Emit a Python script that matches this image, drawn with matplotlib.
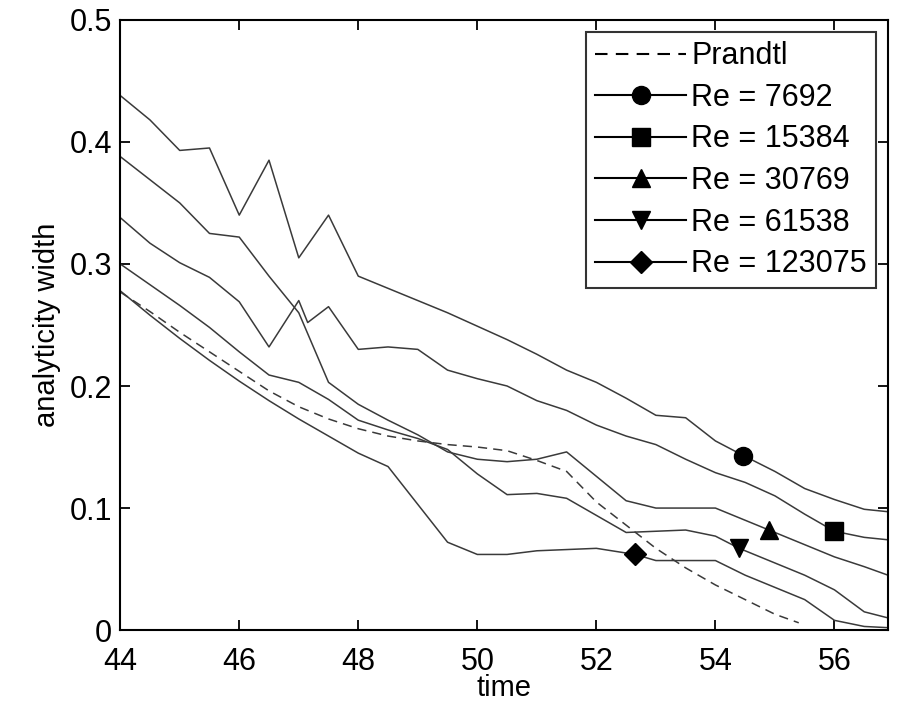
import matplotlib
matplotlib.use("Agg")
import matplotlib.pyplot as plt

plt.rcParams['font.family'] = ['Liberation Sans', 'DejaVu Sans']

# Prandtl reference curve
t_prandtl = [44, 44.5, 45, 45.5, 46, 46.5, 47, 47.5, 48, 48.5, 49, 49.5, 50, 50.5,
             51, 51.5, 52, 52.5, 53, 53.5, 54, 54.5, 55, 55.4]
w_prandtl = [0.277, 0.261, 0.244, 0.228, 0.212, 0.196, 0.183, 0.173, 0.165, 0.159,
             0.155, 0.152, 0.150, 0.147, 0.139, 0.130, 0.105, 0.086, 0.067, 0.051,
             0.037, 0.025, 0.013, 0.006]

# Re = 7692
t_7692 = [44, 44.5, 45, 45.5, 46, 46.5, 47, 47.5, 48, 48.5, 49, 49.5, 50, 50.5,
          51, 51.5, 52, 52.5, 53, 53.5, 54, 54.47, 55, 55.5, 56, 56.5, 56.9]
w_7692 = [0.438, 0.418, 0.393, 0.395, 0.340, 0.385, 0.305, 0.340, 0.290, 0.280,
          0.270, 0.260, 0.249, 0.238, 0.226, 0.213, 0.203, 0.190, 0.176, 0.174,
          0.155, 0.143, 0.130, 0.116, 0.107, 0.099, 0.097]

# Re = 15384
t_15384 = [44, 44.5, 45, 45.5, 46, 46.5, 47, 47.15, 47.5, 48, 48.5, 49, 49.5, 50,
           50.5, 51, 51.5, 52, 52.5, 53, 53.5, 54, 54.5, 55, 55.5, 56, 56.5, 56.9]
w_15384 = [0.338, 0.317, 0.301, 0.289, 0.269, 0.232, 0.270, 0.252, 0.265, 0.230,
           0.232, 0.230, 0.213, 0.206, 0.200, 0.188, 0.180, 0.168, 0.159, 0.152,
           0.140, 0.129, 0.121, 0.110, 0.095, 0.081, 0.076, 0.074]

# Re = 30769
t_30769 = [44, 44.5, 45, 45.5, 46, 46.5, 47, 47.5, 48, 48.5, 49, 49.5, 50, 50.5,
           51, 51.5, 52, 52.5, 53, 53.5, 54, 54.5, 54.9, 55.5, 56, 56.5, 56.9]
w_30769 = [0.388, 0.369, 0.350, 0.325, 0.322, 0.290, 0.260, 0.203, 0.185, 0.172,
           0.160, 0.146, 0.140, 0.138, 0.140, 0.146, 0.126, 0.106, 0.100, 0.100,
           0.100, 0.090, 0.082, 0.070, 0.060, 0.052, 0.045]

# Re = 61538
t_61538 = [44, 44.5, 45, 45.5, 46, 46.5, 47, 47.5, 48, 48.5, 49, 49.5, 50, 50.5,
           51, 51.5, 52, 52.5, 53, 53.5, 54, 54.4, 55, 55.5, 56, 56.5, 56.9]
w_61538 = [0.300, 0.283, 0.266, 0.248, 0.228, 0.209, 0.203, 0.189, 0.172, 0.164,
           0.157, 0.148, 0.128, 0.111, 0.112, 0.108, 0.094, 0.080, 0.081, 0.082,
           0.077, 0.067, 0.055, 0.045, 0.033, 0.015, 0.010]

# Re = 123075
t_123075 = [44, 44.5, 45, 45.5, 46, 46.5, 47, 47.5, 48, 48.5, 49, 49.5, 50, 50.5,
            51, 51.5, 52, 52.65, 53, 53.5, 54, 54.5, 55, 55.5, 56, 56.5, 56.9]
w_123075 = [0.278, 0.258, 0.239, 0.221, 0.204, 0.188, 0.173, 0.159, 0.145, 0.134,
            0.103, 0.072, 0.062, 0.062, 0.065, 0.066, 0.067, 0.062, 0.057, 0.057,
            0.057, 0.045, 0.035, 0.025, 0.008, 0.003, 0.002]

# where each curve carries its marker
mark_t = {'7692': 54.47, '15384': 56.0, '30769': 54.9, '61538': 54.4, '123075': 52.65}

curves = [
    ('7692', t_7692, w_7692, 'o'),
    ('15384', t_15384, w_15384, 's'),
    ('30769', t_30769, w_30769, '^'),
    ('61538', t_61538, w_61538, 'v'),
    ('123075', t_123075, w_123075, 'D'),
]

fig = plt.figure(figsize=(8.97, 7.08), dpi=100)
ax = fig.add_axes([0.134, 0.110, 0.856, 0.862])

line_col = '#3a3a3a'
ax.plot(t_prandtl, w_prandtl, '--', color=line_col, lw=1.1, dashes=(6, 4),
        label='Prandtl')
for name, t, w, mk in curves:
    idx = t.index(mark_t[name])
    ax.plot(t, w, '-', color=line_col, lw=1.1, marker=mk, markevery=[idx],
            markersize=13 if mk != 'D' else 11, markerfacecolor='black',
            markeredgecolor='black', label=f'Re = {name}')

ax.set_xlim(44, 56.9)
ax.set_ylim(0, 0.5)
ax.set_xticks([44, 46, 48, 50, 52, 54, 56])
ax.set_yticks([0, 0.1, 0.2, 0.3, 0.4, 0.5])
ax.set_yticklabels(['0', '0.1', '0.2', '0.3', '0.4', '0.5'])
ax.tick_params(direction='in', length=7, width=1.3, labelsize=22,
               top=True, right=True)
ax.tick_params(axis='x', pad=12)
ax.tick_params(axis='y', pad=6)
for s in ax.spines.values():
    s.set_linewidth(1.5)

ax.set_xlabel('time', fontsize=21, labelpad=-2)
ax.set_ylabel('analyticity width', fontsize=21, labelpad=6)

leg = ax.legend(loc='upper right', fontsize=22, frameon=True, fancybox=False,
                edgecolor='black', handlelength=3.0, handletextpad=0.15,
                borderpad=0.3, labelspacing=0.38, borderaxespad=0.4)
leg.get_frame().set_linewidth(1.5)
for h in leg.get_lines():
    h.set_color('black')
    h.set_linewidth(1.5)

fig.savefig('out.png', dpi=100)
